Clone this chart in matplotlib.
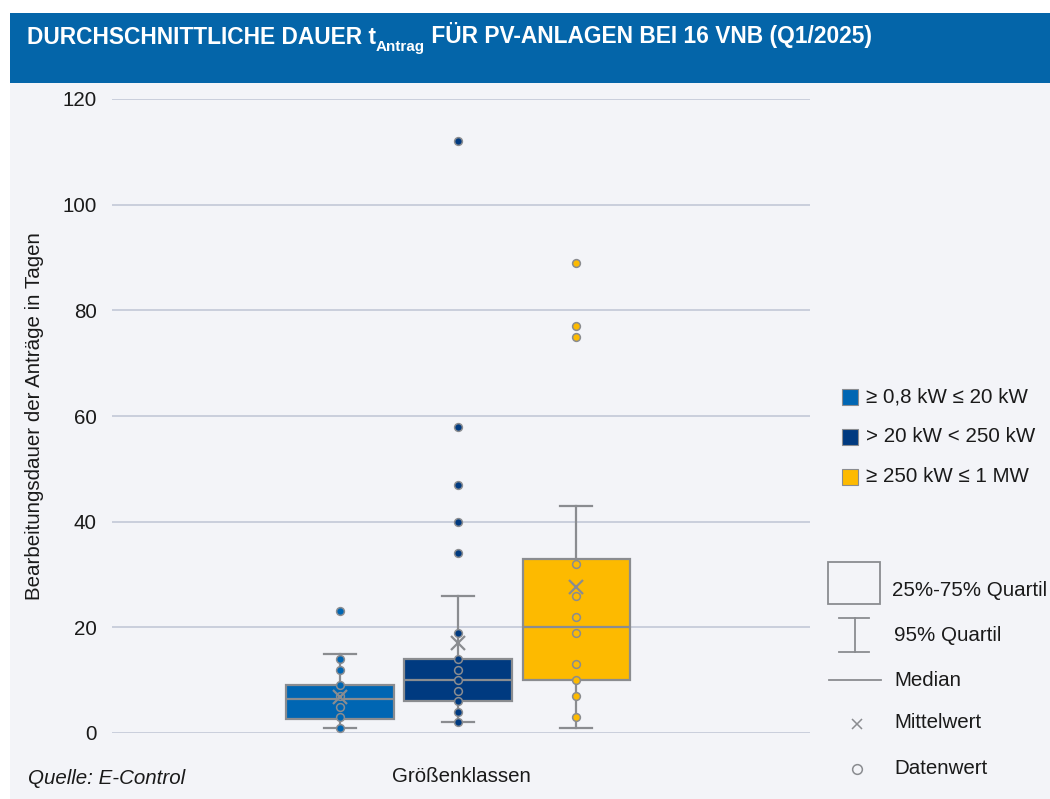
import matplotlib
matplotlib.use("Agg")
import matplotlib.pyplot as plt
from matplotlib.patches import Rectangle
from matplotlib.lines import Line2D

plt.rcParams['font.family'] = ['Liberation Sans', 'DejaVu Sans']

# ---- data ----
categories = ["≥ 0,8 kW ≤ 20 kW", "> 20 kW < 250 kW", "≥ 250 kW ≤ 1 MW"]
q1 = [2.7, 6, 10]
medians = [6.5, 10, 20]
q3 = [9, 14, 33]
whisker_low = [1, 2, 1]
whisker_high = [15, 26, 43]
means = [6.9, 17.1, 27.6]
points_small = [1, 3, 5, 7, 9, 12, 14, 23]
points_mid = [2, 4, 6, 8, 10, 12, 14, 19, 34, 40, 47, 58, 112]
points_large = [3, 7, 10, 13, 19, 22, 26, 32, 75, 77, 89]
yticks = [0, 20, 40, 60, 80, 100, 120]
xlabel = "Größenklassen"
ylabel = "Bearbeitungsdauer der Anträge in Tagen"
source = "Quelle: E-Control"

colors = ["#0066B3", "#003A80", "#FDBA00"]
edge_gray = "#8A8C90"
grid_col = "#C6CCDA"
bg_col = "#F3F4F8"
bar_col = "#0465A9"
txt_col = "#1a1a1a"
FS = 14.8

W, H = 1050, 799
fig = plt.figure(figsize=(W / 100, H / 100), dpi=100)
fig.patch.set_facecolor("white")


def fx(x):
    return x / W


def fy(y):
    return 1 - y / H


# background panels
fig.patches.append(Rectangle((fx(10), 0), 1 - fx(10), fy(12.7), transform=fig.transFigure,
                             facecolor=bg_col, edgecolor="none", zorder=-10))
fig.patches.append(Rectangle((fx(10), fy(82.7)), 1 - fx(10), fy(12.7) - fy(82.7),
                             transform=fig.transFigure, facecolor=bar_col, edgecolor="none", zorder=-9))

ax = fig.add_axes([fx(112), fy(733), fx(810) - fx(112), fy(99) - fy(733)])
ax.set_facecolor("none")
for s in ax.spines.values():
    s.set_visible(False)

positions = [-1, 0, 1]
stats = []
for i in range(3):
    stats.append(dict(med=medians[i], q1=q1[i], q3=q3[i], whislo=whisker_low[i],
                      whishi=whisker_high[i], mean=means[i], fliers=[]))

bp = ax.bxp(stats, positions=positions, widths=0.907, patch_artist=True, showmeans=True,
            showfliers=False, capwidths=[0.27] * 3,
            boxprops=dict(edgecolor=edge_gray, linewidth=1.6),
            whiskerprops=dict(color=edge_gray, linewidth=1.6),
            capprops=dict(color=edge_gray, linewidth=1.6),
            medianprops=dict(color=edge_gray, linewidth=1.6),
            meanprops=dict(marker="x", markeredgecolor=edge_gray, markersize=10,
                           markeredgewidth=1.6, zorder=6))
for patch, c in zip(bp["boxes"], colors):
    patch.set_facecolor(c)
    patch.set_zorder(3)
for key in ["whiskers", "caps", "medians"]:
    for l in bp[key]:
        l.set_zorder(2 if key != "medians" else 4)

for pos, pts, c in zip(positions, [points_small, points_mid, points_large], colors):
    ax.plot([pos] * len(pts), pts, linestyle="none", marker="o", markersize=5.6,
            markerfacecolor=c, markeredgecolor=edge_gray, markeredgewidth=1.1, zorder=5)

ax.set_xlim(-2.93, 2.98)
ax.set_ylim(0, 120)
ax.set_yticks(yticks)
ax.set_xticks([])
ax.yaxis.grid(True, color=grid_col, linewidth=1.3)
ax.set_axisbelow(True)
ax.tick_params(axis="y", length=0, pad=11, labelsize=FS, labelcolor=txt_col)

fig.text(fx(35), fy(416), ylabel, rotation=90, ha="center", va="center", fontsize=FS, color=txt_col)
fig.text(fx(461), fy(776), xlabel, ha="center", va="center", fontsize=FS, color=txt_col)
fig.text(fx(28), fy(779), source, ha="left", va="center", fontsize=FS, style="italic", color=txt_col)

# title built from pieces (subscript)
renderer = fig.canvas.get_renderer()
x = fx(27)
ybase = fy(43.5)
pieces = [("DURCHSCHNITTLICHE DAUER t", 16.4, 0), ("Antrag", 11, -7),
          (" FÜR PV-ANLAGEN BEI 16 VNB (Q1/2025)", 16.4, 0)]
for txt, size, dy in pieces:
    t = fig.text(x, ybase + dy / H, txt, fontsize=size, fontweight="bold",
                 color="white", ha="left", va="baseline")
    bb = t.get_window_extent(renderer=renderer)
    x += bb.width / W

# legend: series
for i, (lab, c) in enumerate(zip(categories, colors)):
    yc = 397 + 40 * i
    fig.patches.append(Rectangle((fx(842), fy(yc + 8)), fx(16), 16 / H, transform=fig.transFigure,
                                 facecolor=c, edgecolor=edge_gray, linewidth=0.8, zorder=3))
    fig.text(fx(866), fy(yc), lab, ha="left", va="center", fontsize=FS, color=txt_col)

# legend: box-plot explanation
fig.patches.append(Rectangle((fx(828), fy(603.5)), fx(52), 42 / H, transform=fig.transFigure,
                             facecolor="none", edgecolor=edge_gray, linewidth=1.3, zorder=3))
fig.text(fx(892), fy(591), "25%-75% Quartil", ha="left", va="center", fontsize=FS, color=txt_col)
fig.lines.append(Line2D([fx(854.5), fx(854.5)], [fy(618), fy(652)], transform=fig.transFigure,
                        color=edge_gray, linewidth=1.3))
for yy in (618, 652):
    fig.lines.append(Line2D([fx(839), fx(869)], [fy(yy), fy(yy)], transform=fig.transFigure,
                            color=edge_gray, linewidth=1.3))
fig.text(fx(894), fy(635.5), "95% Quartil", ha="left", va="center", fontsize=FS, color=txt_col)
fig.lines.append(Line2D([fx(829), fx(881)], [fy(680), fy(680)], transform=fig.transFigure,
                        color=edge_gray, linewidth=1.3))
fig.text(fx(894), fy(680), "Median", ha="left", va="center", fontsize=FS, color=txt_col)
fig.lines.append(Line2D([fx(857)], [fy(724)], transform=fig.transFigure, marker="x", markersize=7,
                        markeredgecolor=edge_gray, markeredgewidth=1.1, linestyle="none"))
fig.text(fx(894), fy(723), "Mittelwert", ha="left", va="center", fontsize=FS, color=txt_col)
fig.lines.append(Line2D([fx(857)], [fy(769)], transform=fig.transFigure, marker="o", markersize=7,
                        markerfacecolor="none", markeredgecolor=edge_gray, markeredgewidth=1.1,
                        linestyle="none"))
fig.text(fx(894), fy(769), "Datenwert", ha="left", va="center", fontsize=FS, color=txt_col)

fig.savefig("out.png", dpi=100, facecolor=fig.get_facecolor())
